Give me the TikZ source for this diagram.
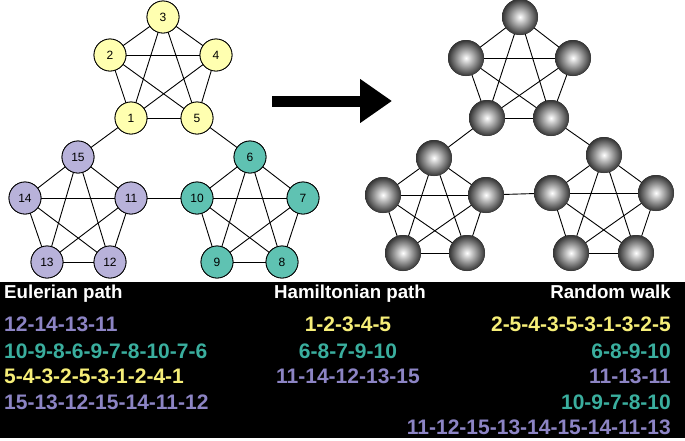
\documentclass[tikz,border=0pt]{standalone}
\usepackage{fontspec}
\setmainfont{Liberation Sans}
\usetikzlibrary{arrows.meta}
\definecolor{ynode}{HTML}{FFFFB0}
\definecolor{pnode}{HTML}{B8B2DA}
\definecolor{tnode}{HTML}{5FC2B2}
\definecolor{ytxt}{HTML}{F6EE78}
\definecolor{ttxt}{HTML}{3AAE9E}
\definecolor{ptxt}{HTML}{8C84C4}
\tikzset{
  vtx/.style={circle,draw=black,line width=0.8pt,minimum size=32pt,inner sep=0pt,font=\fontsize{12}{13}\selectfont},
  yv/.style={vtx,fill=ynode},
  pv/.style={vtx,fill=pnode},
  tv/.style={vtx,fill=tnode},
  iv/.style={circle,minimum size=36pt,inner sep=0pt,inner color=white,outer color=black!80},
  edge/.style={line width=0.9pt},
  lab/.style={font=\fontsize{21}{23}\bfseries\selectfont,inner sep=0pt},
  hdr/.style={font=\fontsize{18.7}{21}\bfseries\selectfont,inner sep=0pt,white}
}
\begin{document}
\begin{tikzpicture}[x=1pt,y=-1pt]
\useasboundingbox (0,0) rectangle (685,440);
% left graph
\node[yv] (a3) at (163,17) {3};
\node[yv] (a2) at (110,55) {2};
\node[yv] (a4) at (216,55) {4};
\node[yv] (a1) at (131,118) {1};
\node[yv] (a5) at (197,118) {5};
\node[pv] (a15) at (78,157) {15};
\node[pv] (a14) at (25,198) {14};
\node[pv] (a11) at (131,198) {11};
\node[pv] (a13) at (47,262) {13};
\node[pv] (a12) at (110,262) {12};
\node[tv] (a6) at (250,157) {6};
\node[tv] (a10) at (197,198) {10};
\node[tv] (a7) at (303,198) {7};
\node[tv] (a9) at (217,262) {9};
\node[tv] (a8) at (282,262) {8};
% right graph
\node[iv] (b3) at (520,17) {};
\node[iv] (b2) at (466,58) {};
\node[iv] (b4) at (573,58) {};
\node[iv] (b1) at (487,118) {};
\node[iv] (b5) at (551,118) {};
\node[iv] (b15) at (434,158) {};
\node[iv] (b14) at (383,195) {};
\node[iv] (b11) at (486,195) {};
\node[iv] (b13) at (403,253) {};
\node[iv] (b12) at (467,253) {};
\node[iv] (b6) at (604,155) {};
\node[iv] (b10) at (552,193) {};
\node[iv] (b7) at (656,193) {};
\node[iv] (b9) at (571,253) {};
\node[iv] (b8) at (636,253) {};
\foreach \g in {a,b}{
  \foreach \u/\v in {3/2,3/4,3/1,3/5,2/4,2/1,2/5,4/1,4/5,1/5,
                     15/14,15/11,15/13,15/12,14/11,14/13,14/12,11/13,11/12,13/12,
                     6/10,6/7,6/9,6/8,10/7,10/9,10/8,7/9,7/8,9/8,
                     1/15,5/6,11/10}
    \draw[edge] (\g\u.center) -- (\g\v.center);
}
% redraw nodes on top of the edges
\foreach \n/\s/\p in {3/yv/{163,17},2/yv/{110,55},4/yv/{216,55},1/yv/{131,118},5/yv/{197,118},
  15/pv/{78,157},14/pv/{25,198},11/pv/{131,198},13/pv/{47,262},12/pv/{110,262},
  6/tv/{250,157},10/tv/{197,198},7/tv/{303,198},9/tv/{217,262},8/tv/{282,262}}
  \node[\s] at (\p) {\n};
\foreach \p in {{520,17},{466,58},{573,58},{487,118},{551,118},{434,158},{383,195},{486,195},
  {403,253},{467,253},{604,155},{552,193},{656,193},{571,253},{636,253}}
  \node[iv] at (\p) {};
% arrow
\coordinate (s) at (272,101);
\coordinate (e) at (392,101);
\draw[line width=11pt,-{Triangle[length=32pt,width=42pt]}] (s) -- (e);
% table
\fill[black] (0,282) rectangle (685,438);
\node[hdr,anchor=base west] (h1) at (4,298) {Eulerian path};
\node[hdr,anchor=base] (h2) at (350,298) {Hamiltonian path};
\node[hdr,anchor=base east] (h3) at (671,298) {Random walk};
\node[lab,ptxt,anchor=base west] (e1) at (4,331) {12-14-13-11};
\node[lab,ttxt,anchor=base west] (e2) at (4,358) {10-9-8-6-9-7-8-10-7-6};
\node[lab,ytxt,anchor=base west] (e3) at (4,383) {5-4-3-2-5-3-1-2-4-1};
\node[lab,ptxt,anchor=base west] (e4) at (4,409) {15-13-12-15-14-11-12};
\node[lab,ytxt,anchor=base] (m1) at (348,331) {1-2-3-4-5};
\node[lab,ttxt,anchor=base] (m2) at (348,358) {6-8-7-9-10};
\node[lab,ptxt,anchor=base] (m3) at (348,383) {11-14-12-13-15};
\node[lab,ytxt,anchor=base east] (r1) at (671,331) {2-5-4-3-5-3-1-3-2-5};
\node[lab,ttxt,anchor=base east] (r2) at (671,358) {6-8-9-10};
\node[lab,ptxt,anchor=base east] (r3) at (671,383) {11-13-11};
\node[lab,ttxt,anchor=base east] (r4) at (671,409) {10-9-7-8-10};
\node[lab,ptxt,anchor=base east] (r5) at (671,434) {11-12-15-13-14-15-14-11-13};
\end{tikzpicture}
\end{document}
